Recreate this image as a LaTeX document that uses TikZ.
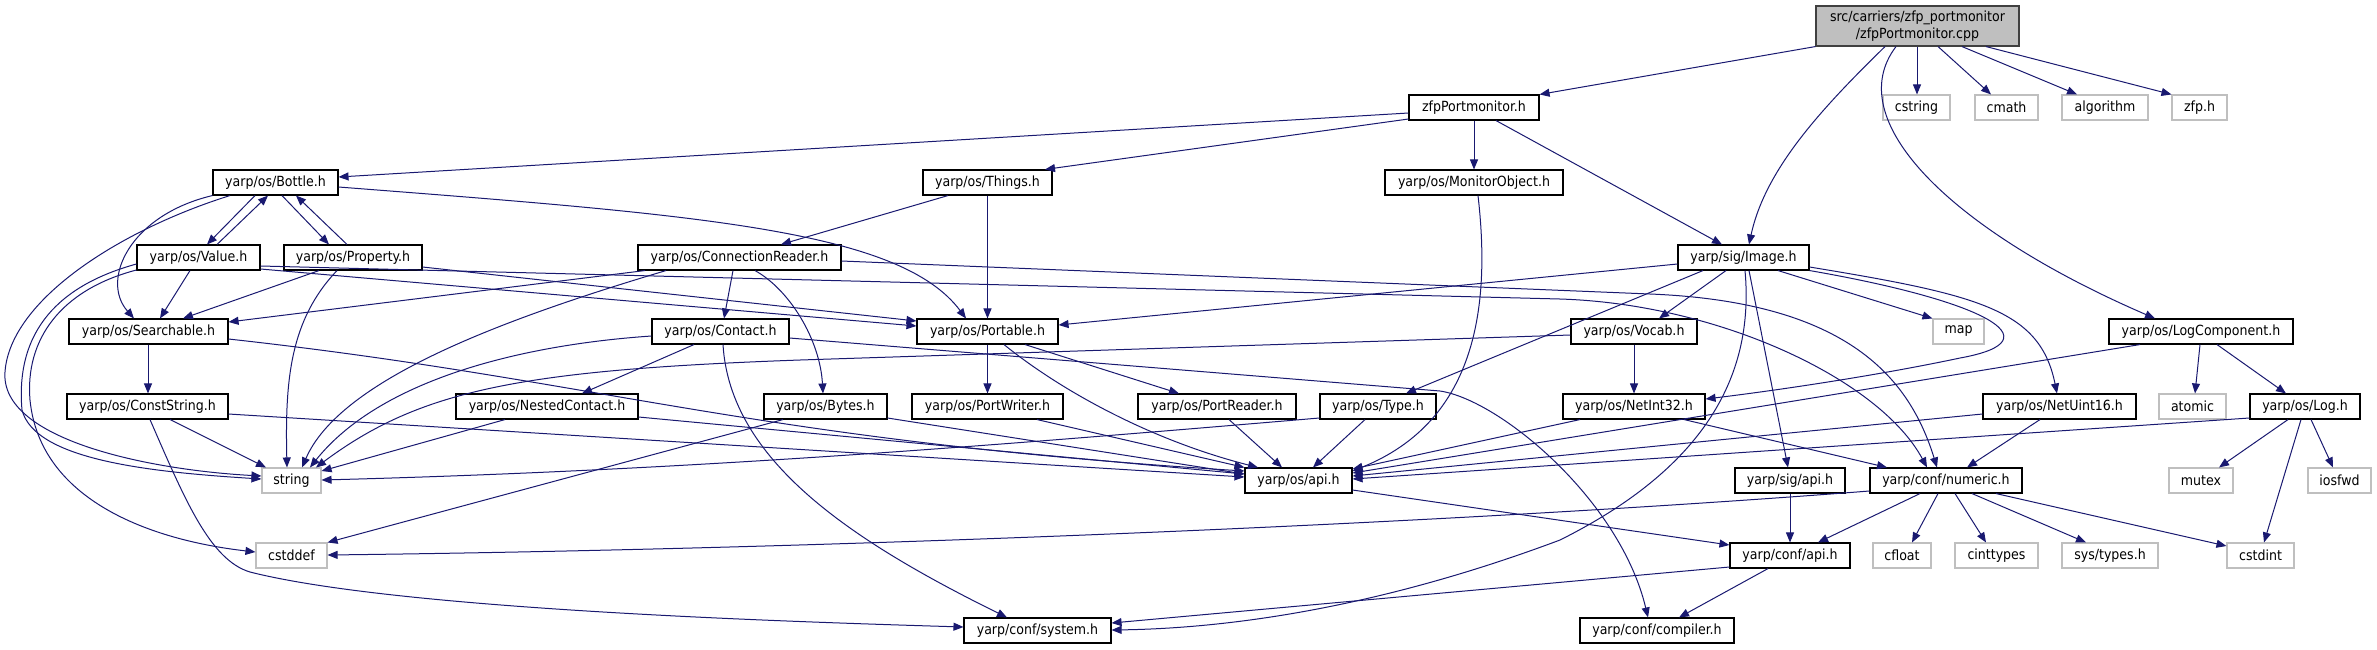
\documentclass[tikz,border=0pt]{standalone}
\usepackage{fontspec}
\setmainfont{DejaVu Sans Condensed}
\usetikzlibrary{arrows.meta}
\definecolor{edgec}{HTML}{191970}
\definecolor{sysc}{HTML}{BFBFBF}
\definecolor{rootc}{HTML}{BFBFBF}
\tikzset{
  hb/.style={draw=black, line width=1.1pt, fill=white, inner sep=0pt, minimum height=25pt, font=\fontsize{14pt}{16pt}\selectfont, text=black},
  sysb/.style={hb, draw=sysc},
  rootb/.style={hb, fill=rootc, draw=black!75, minimum height=40pt, align=center, font=\fontsize{14pt}{17pt}\selectfont},
  dep/.style={draw=edgec, line width=1.0pt, -{Triangle[length=10pt,width=8pt]}, fill=none}
}
\begin{document}
\begin{tikzpicture}[x=1pt,y=-1pt]
\path[use as bounding box] (0,0) rectangle (2377,649);
% nodes
\node[rootb, minimum width=203pt] (cpp) at (1917.5,26) {src/carriers/zfp\_portmonitor\\/zfpPortmonitor.cpp};
\node[hb, minimum width=130pt] (zfph) at (1474,107.5) {zfpPortmonitor.h};
\node[sysb, minimum width=67pt] (cstring) at (1916.5,107.5) {cstring};
\node[sysb, minimum width=63pt] (cmath) at (2006.5,107.5) {cmath};
\node[sysb, minimum width=86pt] (algorithm) at (2105,107.5) {algorithm};
\node[sysb, minimum width=55pt] (zfp) at (2199.5,107.5) {zfp.h};
\node[hb, minimum width=125pt] (Bottle) at (275.5,182.5) {yarp/os/Bottle.h};
\node[hb, minimum width=129pt] (Things) at (987.5,182.5) {yarp/os/Things.h};
\node[hb, minimum width=178pt] (MonObj) at (1474,182.5) {yarp/os/MonitorObject.h};
\node[hb, minimum width=123pt] (Value) at (198.5,257.5) {yarp/os/Value.h};
\node[hb, minimum width=138pt] (Property) at (353,257.5) {yarp/os/Property.h};
\node[hb, minimum width=203pt] (ConnReader) at (739.5,257.5) {yarp/os/ConnectionReader.h};
\node[hb, minimum width=131pt] (Image) at (1743.5,257.5) {yarp/sig/Image.h};
\node[hb, minimum width=159pt] (Searchable) at (148.5,331.5) {yarp/os/Searchable.h};
\node[hb, minimum width=137pt] (Contact) at (720.5,331.5) {yarp/os/Contact.h};
\node[hb, minimum width=141pt] (Portable) at (987.5,331.5) {yarp/os/Portable.h};
\node[hb, minimum width=126pt] (Vocab) at (1634,331.5) {yarp/os/Vocab.h};
\node[sysb, minimum width=51pt] (map) at (1958.5,331.5) {map};
\node[hb, minimum width=184pt] (LogComp) at (2201,331.5) {yarp/os/LogComponent.h};
\node[hb, minimum width=161pt] (ConstString) at (147.5,406.5) {yarp/os/ConstString.h};
\node[hb, minimum width=182pt] (NestedContact) at (547,406.5) {yarp/os/NestedContact.h};
\node[hb, minimum width=123pt] (Bytes) at (825.5,406.5) {yarp/os/Bytes.h};
\node[hb, minimum width=151pt] (PortWriter) at (987.5,406.5) {yarp/os/PortWriter.h};
\node[hb, minimum width=158pt] (PortReader) at (1217,406.5) {yarp/os/PortReader.h};
\node[hb, minimum width=116pt] (Type) at (1378,406.5) {yarp/os/Type.h};
\node[hb, minimum width=142pt] (NetInt32) at (1634,406.5) {yarp/os/NetInt32.h};
\node[hb, minimum width=153pt] (NetUint16) at (2059.5,406.5) {yarp/os/NetUint16.h};
\node[sysb, minimum width=67pt] (atomic) at (2192.5,406.5) {atomic};
\node[hb, minimum width=110pt] (Log) at (2305,406.5) {yarp/os/Log.h};
\node[sysb, minimum width=59pt] (string) at (291.5,480.5) {string};
\node[hb, minimum width=107pt] (osapi) at (1298.5,480.5) {yarp/os/api.h};
\node[hb, minimum width=110pt] (sigapi) at (1790,480.5) {yarp/sig/api.h};
\node[hb, minimum width=152pt] (numeric) at (1946,480.5) {yarp/conf/numeric.h};
\node[sysb, minimum width=64pt] (mutex) at (2201,480.5) {mutex};
\node[sysb, minimum width=63pt] (iosfwd) at (2339.5,480.5) {iosfwd};
\node[sysb, minimum width=71pt] (cstddef) at (291.5,555.5) {cstddef};
\node[hb, minimum width=120pt] (confapi) at (1790,555.5) {yarp/conf/api.h};
\node[sysb, minimum width=58pt] (cfloat) at (1902,555.5) {cfloat};
\node[sysb, minimum width=83pt] (cinttypes) at (1996.5,555.5) {cinttypes};
\node[sysb, minimum width=96pt] (systypes) at (2110,555.5) {sys/types.h};
\node[sysb, minimum width=67pt] (cstdint) at (2260.5,555.5) {cstdint};
\node[hb, minimum width=147pt] (system) at (1037.5,630.5) {yarp/conf/system.h};
\node[hb, minimum width=154pt] (compiler) at (1657,630.5) {yarp/conf/compiler.h};
% edges
\draw[dep] (cpp.south west) -- (zfph.north east);
\draw[dep] (1885,0 |- cpp.south) .. controls (1820,110) and (1765,170) .. (1749,0 |- Image.north);
\draw[dep] (1896,0 |- cpp.south) .. controls (1840,120) and (1950,230) .. (2155,0 |- LogComp.north);
\draw[dep] (1917,0 |- cpp.south) -- (1917,0 |- cstring.north);
\draw[dep] (1938,0 |- cpp.south) -- (1991,0 |- cmath.north);
\draw[dep] (1962,0 |- cpp.south) -- (2077,0 |- algorithm.north);
\draw[dep] (1986,0 |- cpp.south) -- (zfp.north west);
\draw[dep] (zfph.west |- 0,113) -- (Bottle.east |- 0,177);
\draw[dep] (zfph.west |- 0,119) -- (1045,0 |- Things.north);
\draw[dep] (zfph.south) -- (MonObj.north);
\draw[dep] (1496,0 |- zfph.south) -- (1722,0 |- Image.north);
\draw[dep] (255,0 |- Bottle.south) -- (207,0 |- Value.north);
\draw[dep] (217,0 |- Value.north) -- (268,0 |- Bottle.south);
\draw[dep] (282,0 |- Bottle.south) -- (329,0 |- Property.north);
\draw[dep] (347,0 |- Property.north) -- (296,0 |- Bottle.south);
\draw[dep] (Bottle.south west) .. controls (130,215) and (100,280) .. (134,0 |- Searchable.north);
\draw[dep] (230,0 |- Bottle.south) .. controls (120,230) and (10,300) .. (5,372) .. controls (0,440) and (150,470) .. (string.west |- 0,476);
\draw[dep] (190,0 |- Value.south) -- (160,0 |- Searchable.north);
\draw[dep] (Value.west |- 0,264) .. controls (60,285) and (15,330) .. (22,410) .. controls (35,460) and (150,472) .. (string.west |- 0,479);
\draw[dep] (Value.west |- 0,270) .. controls (60,290) and (25,340) .. (30,400) .. controls (40,500) and (150,540) .. (cstddef.west |- 0,552);
\draw[dep] (Value.east |- 0,269) -- (Portable.west |- 0,326);
\draw[dep] (Property.east |- 0,267) -- (Portable.west |- 0,321);
\draw[dep] (Value.east |- 0,266) -- (1560,299) .. controls (1720,304) and (1880,380) .. (1927,0 |- numeric.north);
\draw[dep] (ConnReader.east |- 0,261) -- (1650,294) .. controls (1850,302) and (1910,380) .. (1937,0 |- numeric.north);
\draw[dep] (319,0 |- Property.south) -- (183,0 |- Searchable.north);
\draw[dep] (337,0 |- Property.south) .. controls (290,320) and (285,380) .. (287,0 |- string.north);
\draw[dep] (948,0 |- Things.south) -- (781,0 |- ConnReader.north);
\draw[dep] (Things.south) -- (Portable.north);
\draw[dep] (1478,0 |- MonObj.south) .. controls (1490,300) and (1480,420) .. (osapi.east |- 0,471);
\draw[dep] (Bottle.east |- 0,187) .. controls (700,215) and (900,230) .. (966,0 |- Portable.north);
\draw[dep] (645,0 |- ConnReader.south) -- (Searchable.east |- 0,322);
\draw[dep] (666,0 |- ConnReader.south) .. controls (500,320) and (340,380) .. (302,0 |- string.north);
\draw[dep] (733,0 |- ConnReader.south) -- (724,0 |- Contact.north);
\draw[dep] (755,0 |- ConnReader.south) .. controls (790,290) and (820,340) .. (823,0 |- Bytes.north);
\draw[dep] (694,0 |- Contact.south) -- (582,0 |- NestedContact.north);
\draw[dep] (Contact.west |- 0,336) .. controls (520,345) and (380,380) .. (310,0 |- string.north);
\draw[dep] (723,0 |- Contact.south) .. controls (730,460) and (850,540) .. (1007,0 |- system.north);
\draw[dep] (Contact.east |- 0,338) -- (1440,391) .. controls (1500,400) and (1620,500) .. (1648,0 |- compiler.north);
\draw[dep] (505,0 |- NestedContact.south) -- (string.east |- 0,471);
\draw[dep] (NestedContact.east |- 0,417) -- (osapi.west |- 0,474);
\draw[dep] (Searchable.east |- 0,339) .. controls (600,380) and (750,440) .. (osapi.west |- 0,471);
\draw[dep] (170,0 |- ConstString.south) -- (266,0 |- string.north);
\draw[dep] (ConstString.east |- 0,414) -- (osapi.west |- 0,477);
\draw[dep] (150,0 |- ConstString.south) .. controls (185,500) and (210,560) .. (250,572) .. controls (400,610) and (800,622) .. (system.west |- 0,627);
\draw[dep] (148,0 |- Searchable.south) -- (148,0 |- ConstString.north);
\draw[dep] (Bytes.east |- 0,418) -- (osapi.west |- 0,474);
\draw[dep] (783,0 |- Bytes.south) -- (cstddef.north east);
\draw[dep] (Portable.south) -- (PortWriter.north);
\draw[dep] (1025,0 |- Portable.south) -- (1179,0 |- PortReader.north);
\draw[dep] (1004,0 |- Portable.south) .. controls (1060,390) and (1150,440) .. (1258,0 |- osapi.north);
\draw[dep] (1037,0 |- PortWriter.south) -- (osapi.north west);
\draw[dep] (1229,0 |- PortReader.south) -- (1282,0 |- osapi.north);
\draw[dep] (1365,0 |- Type.south) -- (1313,0 |- osapi.north);
\draw[dep] (Type.west |- 0,418) .. controls (1000,445) and (700,470) .. (string.east |- 0,480);
\draw[dep] (Vocab.south) -- (NetInt32.north);
\draw[dep] (Vocab.west |- 0,335) -- (800,360) .. controls (520,370) and (420,390) .. (316,0 |- string.north);
\draw[dep] (1580,0 |- NetInt32.south) -- (osapi.east |- 0,469);
\draw[dep] (1684,0 |- NetInt32.south) -- (1887,0 |- numeric.north);
\draw[dep] (NetUint16.west |- 0,414) -- (osapi.east |- 0,476);
\draw[dep] (2040,0 |- NetUint16.south) -- (1967,0 |- numeric.north);
\draw[dep] (Image.west |- 0,264) -- (Portable.east |- 0,325);
\draw[dep] (1703,0 |- Image.south) -- (1406,0 |- Type.north);
\draw[dep] (1726,0 |- Image.south) -- (1659,0 |- Vocab.north);
\draw[dep] (1745,0 |- Image.south) .. controls (1755,380) and (1700,470) .. (1560,540) .. controls (1400,600) and (1250,628) .. (system.east |- 0,630);
\draw[dep] (1749,0 |- Image.south) -- (1788,0 |- sigapi.north);
\draw[dep] (1778,0 |- Image.south) -- (map.north west);
\draw[dep] (Image.south east) .. controls (1980,300) and (2060,340) .. (1960,358) .. controls (1880,375) and (1780,390) .. (NetInt32.east |- 0,399);
\draw[dep] (Image.east |- 0,267) .. controls (1980,295) and (2040,310) .. (2057,0 |- NetUint16.north);
\draw[dep] (2140,0 |- LogComp.south) -- (osapi.east |- 0,473);
\draw[dep] (2200,0 |- LogComp.south) -- (2195,0 |- atomic.north);
\draw[dep] (2217,0 |- LogComp.south) -- (2286,0 |- Log.north);
\draw[dep] (Log.west |- 0,418) -- (osapi.east |- 0,479);
\draw[dep] (2288,0 |- Log.south) -- (2219,0 |- mutex.north);
\draw[dep] (2301,0 |- Log.south) -- (2264,0 |- cstdint.north);
\draw[dep] (2311,0 |- Log.south) -- (2333,0 |- iosfwd.north);
\draw[dep] (sigapi.south) -- (confapi.north);
\draw[dep] (1920,0 |- numeric.south) -- (1818,0 |- confapi.north);
\draw[dep] (1938,0 |- numeric.south) -- (1912,0 |- cfloat.north);
\draw[dep] (1955,0 |- numeric.south) -- (1986,0 |- cinttypes.north);
\draw[dep] (1972,0 |- numeric.south) -- (2086,0 |- systypes.north);
\draw[dep] (1996,0 |- numeric.south) -- (cstdint.west |- 0,546);
\draw[dep] (numeric.west |- 0,491) .. controls (1500,520) and (900,548) .. (cstddef.east |- 0,555);
\draw[dep] (osapi.east |- 0,490) -- (confapi.west |- 0,545);
\draw[dep] (confapi.west |- 0,567) -- (system.east |- 0,623);
\draw[dep] (1768,0 |- confapi.south) -- (1679,0 |- compiler.north);
\end{tikzpicture}
\end{document}
